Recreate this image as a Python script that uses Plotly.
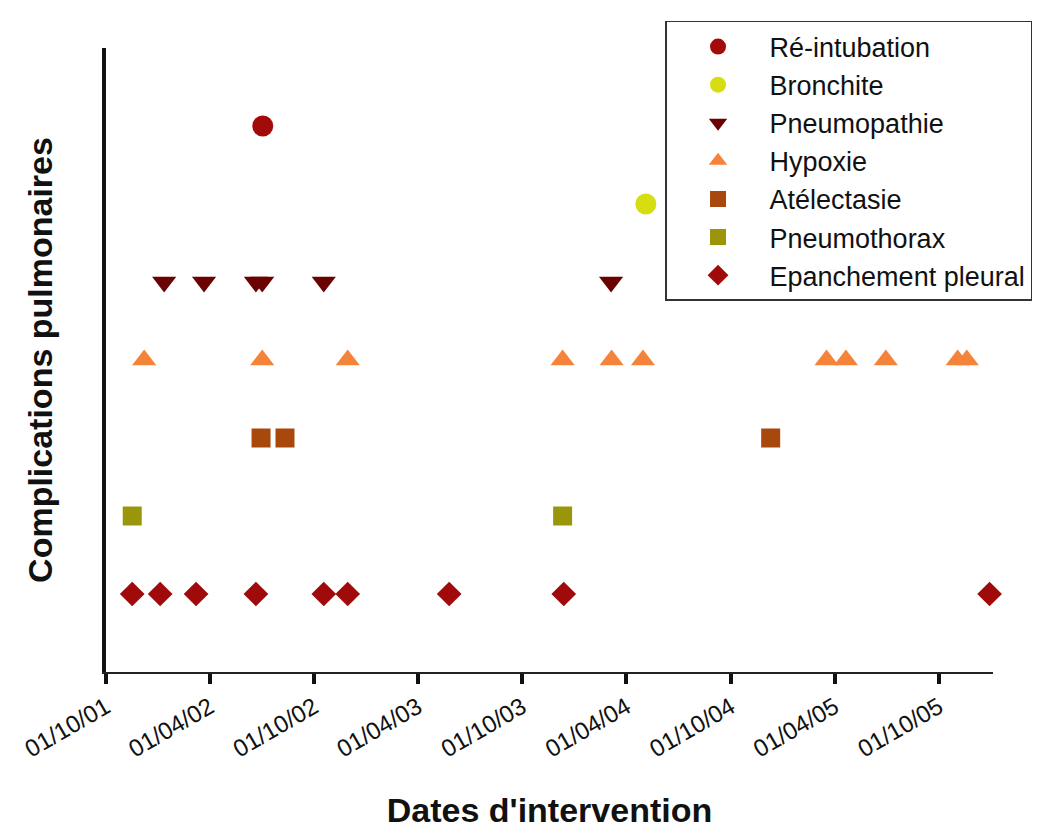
import plotly.graph_objects as go

# ---- data ----
categories = ["Ré-intubation", "Bronchite", "Pneumopathie", "Hypoxie",
              "Atélectasie", "Pneumothorax", "Epanchement pleural"]

reintubation_dates = ["2002-07-03"]
bronchite_dates = ["2004-05-05"]
pneumopathie_dates = ["2002-01-11", "2002-03-22", "2002-06-21", "2002-07-02",
                      "2002-10-18", "2004-03-05"]
hypoxie_dates = ["2001-12-07", "2002-07-02", "2002-11-29", "2003-12-11",
                 "2004-03-06", "2004-04-30", "2005-03-18", "2005-04-21",
                 "2005-06-30", "2005-11-03", "2005-11-19"]
atelectasie_dates = ["2002-06-30", "2002-08-11", "2004-12-10"]
pneumothorax_dates = ["2001-11-16", "2003-12-11"]
epanchement_dates = ["2001-11-16", "2002-01-04", "2002-03-08", "2002-06-21",
                     "2002-10-18", "2002-11-29", "2003-05-26", "2003-12-13",
                     "2005-12-29"]

series_dates = [reintubation_dates, bronchite_dates, pneumopathie_dates,
                hypoxie_dates, atelectasie_dates, pneumothorax_dates,
                epanchement_dates]

x_range = ["2001-10-01", "2006-01-04"]
tick_start = "2001-10-01"

# ---- styles ----
symbols = ["circle", "circle", "triangle-down", "triangle-up", "square",
           "square", "diamond"]
colors = ["#A30A0A", "#D6DE12", "#6B0202", "#F5843A", "#A8480C",
          "#9A960C", "#A00A0A"]
sizes = [21, 21, 21, 21, 19, 19, 19]

FONT = "Liberation Sans, Arial, Helvetica, sans-serif"

fig = go.Figure()
for name, dates, sym, col, sz in zip(categories, series_dates, symbols, colors, sizes):
    fig.add_trace(go.Scatter(
        x=dates, y=[name] * len(dates), name=name, mode="markers",
        marker=dict(symbol=sym, color=col, size=sz, line=dict(width=0)),
        cliponaxis=False,
    ))

fig.update_layout(
    width=1057, height=828,
    margin=dict(l=98, r=72, t=40, b=164, autoexpand=False),
    paper_bgcolor="white", plot_bgcolor="white",
    font=dict(family=FONT, color="black"),
    legend=dict(
        xref="container", yref="container",
        x=0.6216, y=0.9843, xanchor="left", yanchor="top",
        bgcolor="white", bordercolor="#333", borderwidth=1.5,
        font=dict(size=27, family=FONT, color="#111"),
        itemwidth=93, tracegroupgap=0, entrywidth=420,
    ),
    xaxis=dict(
        type="date",
        range=x_range,
        tick0=tick_start, dtick="M6", tickformat="%d/%m/%y",
        tickangle=-30, tickfont=dict(size=24, family=FONT, color="#111"),
        ticks="outside", ticklen=10, tickwidth=3.5, tickcolor="#111",
        showline=True, linecolor="#222", linewidth=2,
        showgrid=False, zeroline=False,
        title=dict(text="<b>Dates d'intervention</b>",
                   font=dict(size=34, family=FONT, color="#111"), standoff=37),
        automargin=False,
    ),
    yaxis=dict(
        type="category",
        categoryorder="array", categoryarray=categories[::-1],
        range=[-1, 7],
        showticklabels=False, ticks="",
        showline=True, linecolor="#111", linewidth=4,
        showgrid=False, zeroline=False,
        title=dict(text="<b>Complications pulmonaires</b>",
                   font=dict(size=34, family=FONT, color="#111"), standoff=40),
        automargin=False,
    ),
)

fig.write_html("out.html")
